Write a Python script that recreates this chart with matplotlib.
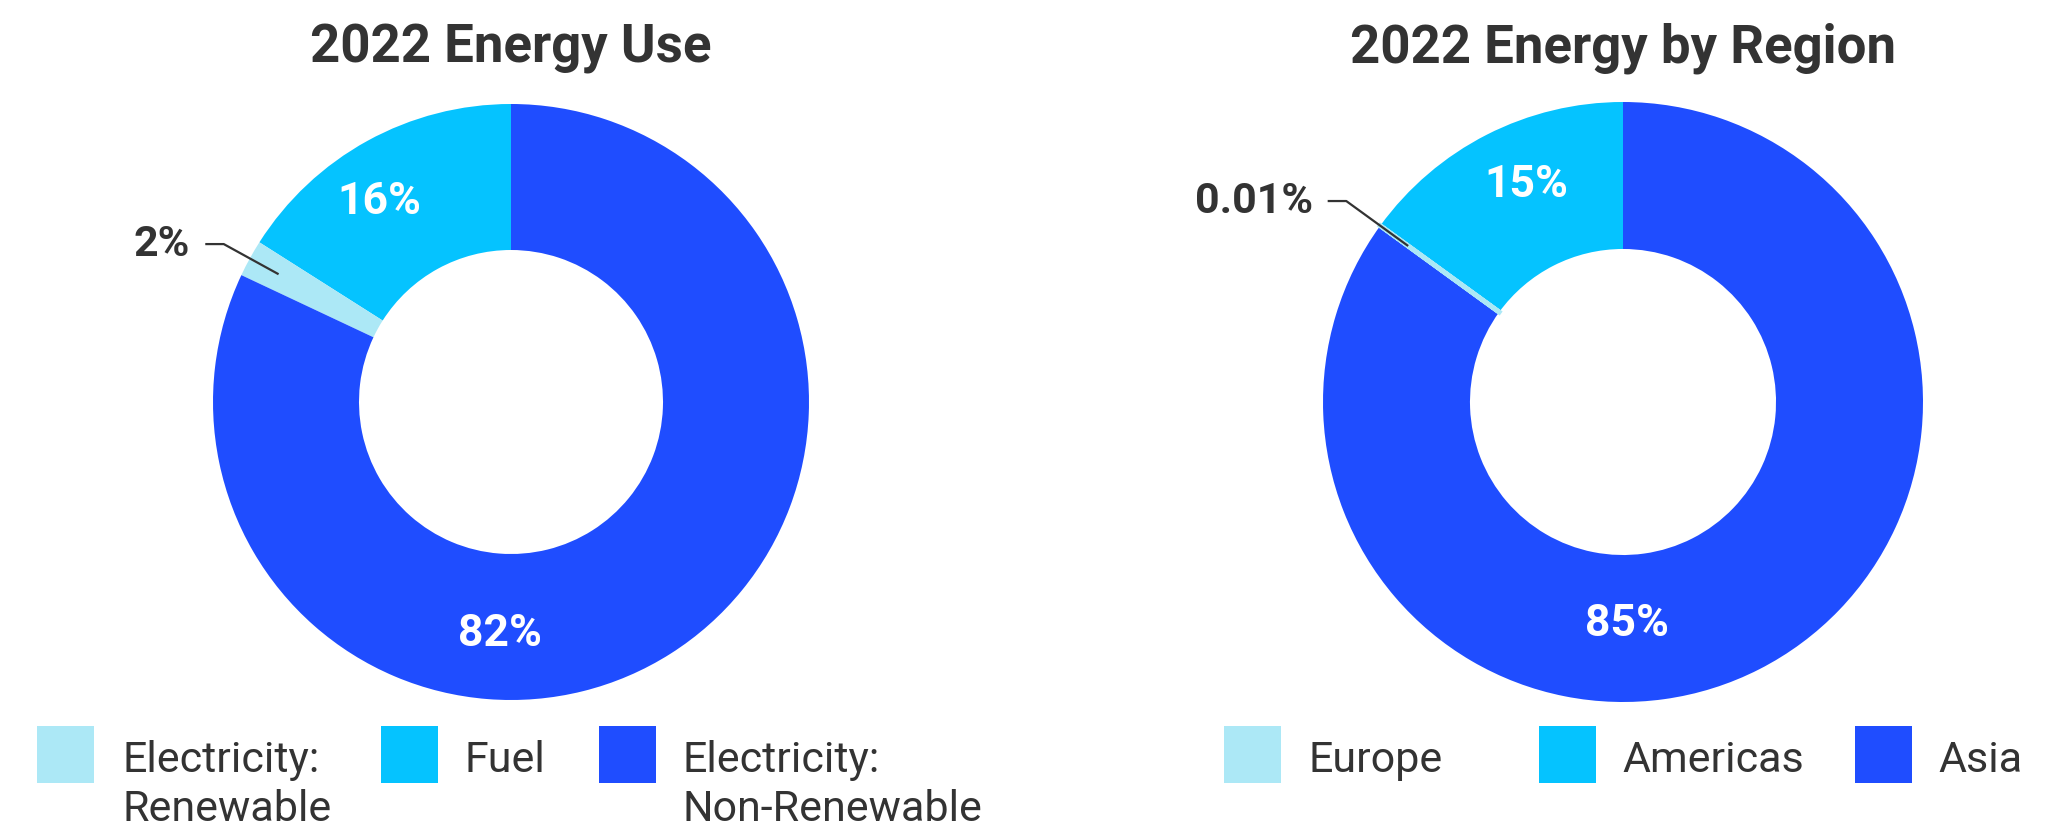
import matplotlib
matplotlib.use("Agg")
import matplotlib.pyplot as plt
from matplotlib.patches import Rectangle
import numpy as np

plt.rcParams['font.family'] = ['Roboto', 'DejaVu Sans']

# ---- data ----
use_title = "2022 Energy Use"
use_labels = ["Electricity:\nRenewable", "Fuel", "Electricity:\nNon-Renewable"]
use_values = [2, 16, 82]

region_title = "2022 Energy by Region"
region_labels = ["Europe", "Americas", "Asia"]
region_values = [0.01, 15, 85]

colors = ["#ACE8F6", "#05C3FF", "#1F4DFF"]
TEXT = "#333333"

# ---- layout (pixels, origin top-left) ----
W, H, DPI = 2069, 830, 100
charts = [
    dict(title=use_title, labels=use_labels, values=use_values,
         cx=511, cy=402, r=298,
         label_pos={1: (123.4, 0.805), 2: (-92.7, 0.78)},
         small_r=(0.89, 1.10), small_edge=0,
         patch_x=[37, 381, 599], text_x=[123, 464, 683]),
    dict(title=region_title, labels=region_labels, values=region_values,
         cx=1623, cy=402, r=300,
         label_pos={1: (114.0, 0.79), 2: (-89.0, 0.74)},
         small_r=(0.885, 1.14), small_edge=3.5,
         patch_x=[1224, 1539, 1855], text_x=[1309, 1622, 1938]),
]
HOLE = 152 / 298
PATCH_TOP, PATCH_SIZE = 726, 57
BASE1, BASE2 = 772, 821

fig = plt.figure(figsize=(W / DPI, H / DPI), dpi=DPI)
fig.patch.set_facecolor("white")

for ch in charts:
    B = 420
    ax = fig.add_axes([(ch["cx"] - B) / W, (H - ch["cy"] - B) / H, 2 * B / W, 2 * B / H])

    vals = ch["values"]
    # counter-clockwise from 12 o'clock: middle item, small item, large item
    order = [1, 0, 2]
    wedges, _ = ax.pie([vals[i] for i in order], colors=[colors[i] for i in order],
                       startangle=90, counterclock=True, radius=1,
                       wedgeprops=dict(width=1 - HOLE, linewidth=0))
    lim = B / ch["r"]
    ax.set_xlim(-lim, lim)
    ax.set_ylim(-lim, lim)
    ax.axis("off")

    small = wedges[1]
    if ch["small_edge"]:
        small.set_edgecolor(colors[0])
        small.set_linewidth(ch["small_edge"])
        small.set_zorder(3)

    # values inside the ring
    for idx, (ang, rr) in ch["label_pos"].items():
        a = np.deg2rad(ang)
        ax.text(rr * np.cos(a), rr * np.sin(a), f"{vals[idx]:g}%", color="white",
                ha="center", va="center", fontsize=32, fontweight="bold")

    # leader line for the thin slice
    mid = np.deg2rad((small.theta1 + small.theta2) / 2)
    r0, r1 = ch["small_r"]
    p0 = (r0 * np.cos(mid), r0 * np.sin(mid))
    p1 = (r1 * np.cos(mid), r1 * np.sin(mid))
    p2 = (p1[0] - 0.062, p1[1])
    ax.plot([p2[0], p1[0], p0[0]], [p2[1], p1[1], p0[1]], color=TEXT, lw=1.6,
            solid_capstyle="butt", clip_on=False, zorder=5)
    ax.text(p2[0] - 0.05, p2[1], f"{vals[0]:g}%", color=TEXT, ha="right", va="center",
            fontsize=31, fontweight="bold", clip_on=False)

    # title
    fig.text(ch["cx"] / W, 1 - 63 / H, ch["title"], ha="center", va="baseline",
             fontsize=38, fontweight="bold", color=TEXT)

    # legend
    for i, lab in enumerate(ch["labels"]):
        fig.patches.append(Rectangle((ch["patch_x"][i] / W, 1 - (PATCH_TOP + PATCH_SIZE) / H),
                                     PATCH_SIZE / W, PATCH_SIZE / H,
                                     transform=fig.transFigure, facecolor=colors[i],
                                     edgecolor="none"))
        for j, line in enumerate(lab.split("\n")):
            fig.text(ch["text_x"][i] / W, 1 - (BASE1 if j == 0 else BASE2) / H, line,
                     ha="left", va="baseline", fontsize=31, color=TEXT)

fig.savefig("out.png", dpi=DPI, facecolor="white")
